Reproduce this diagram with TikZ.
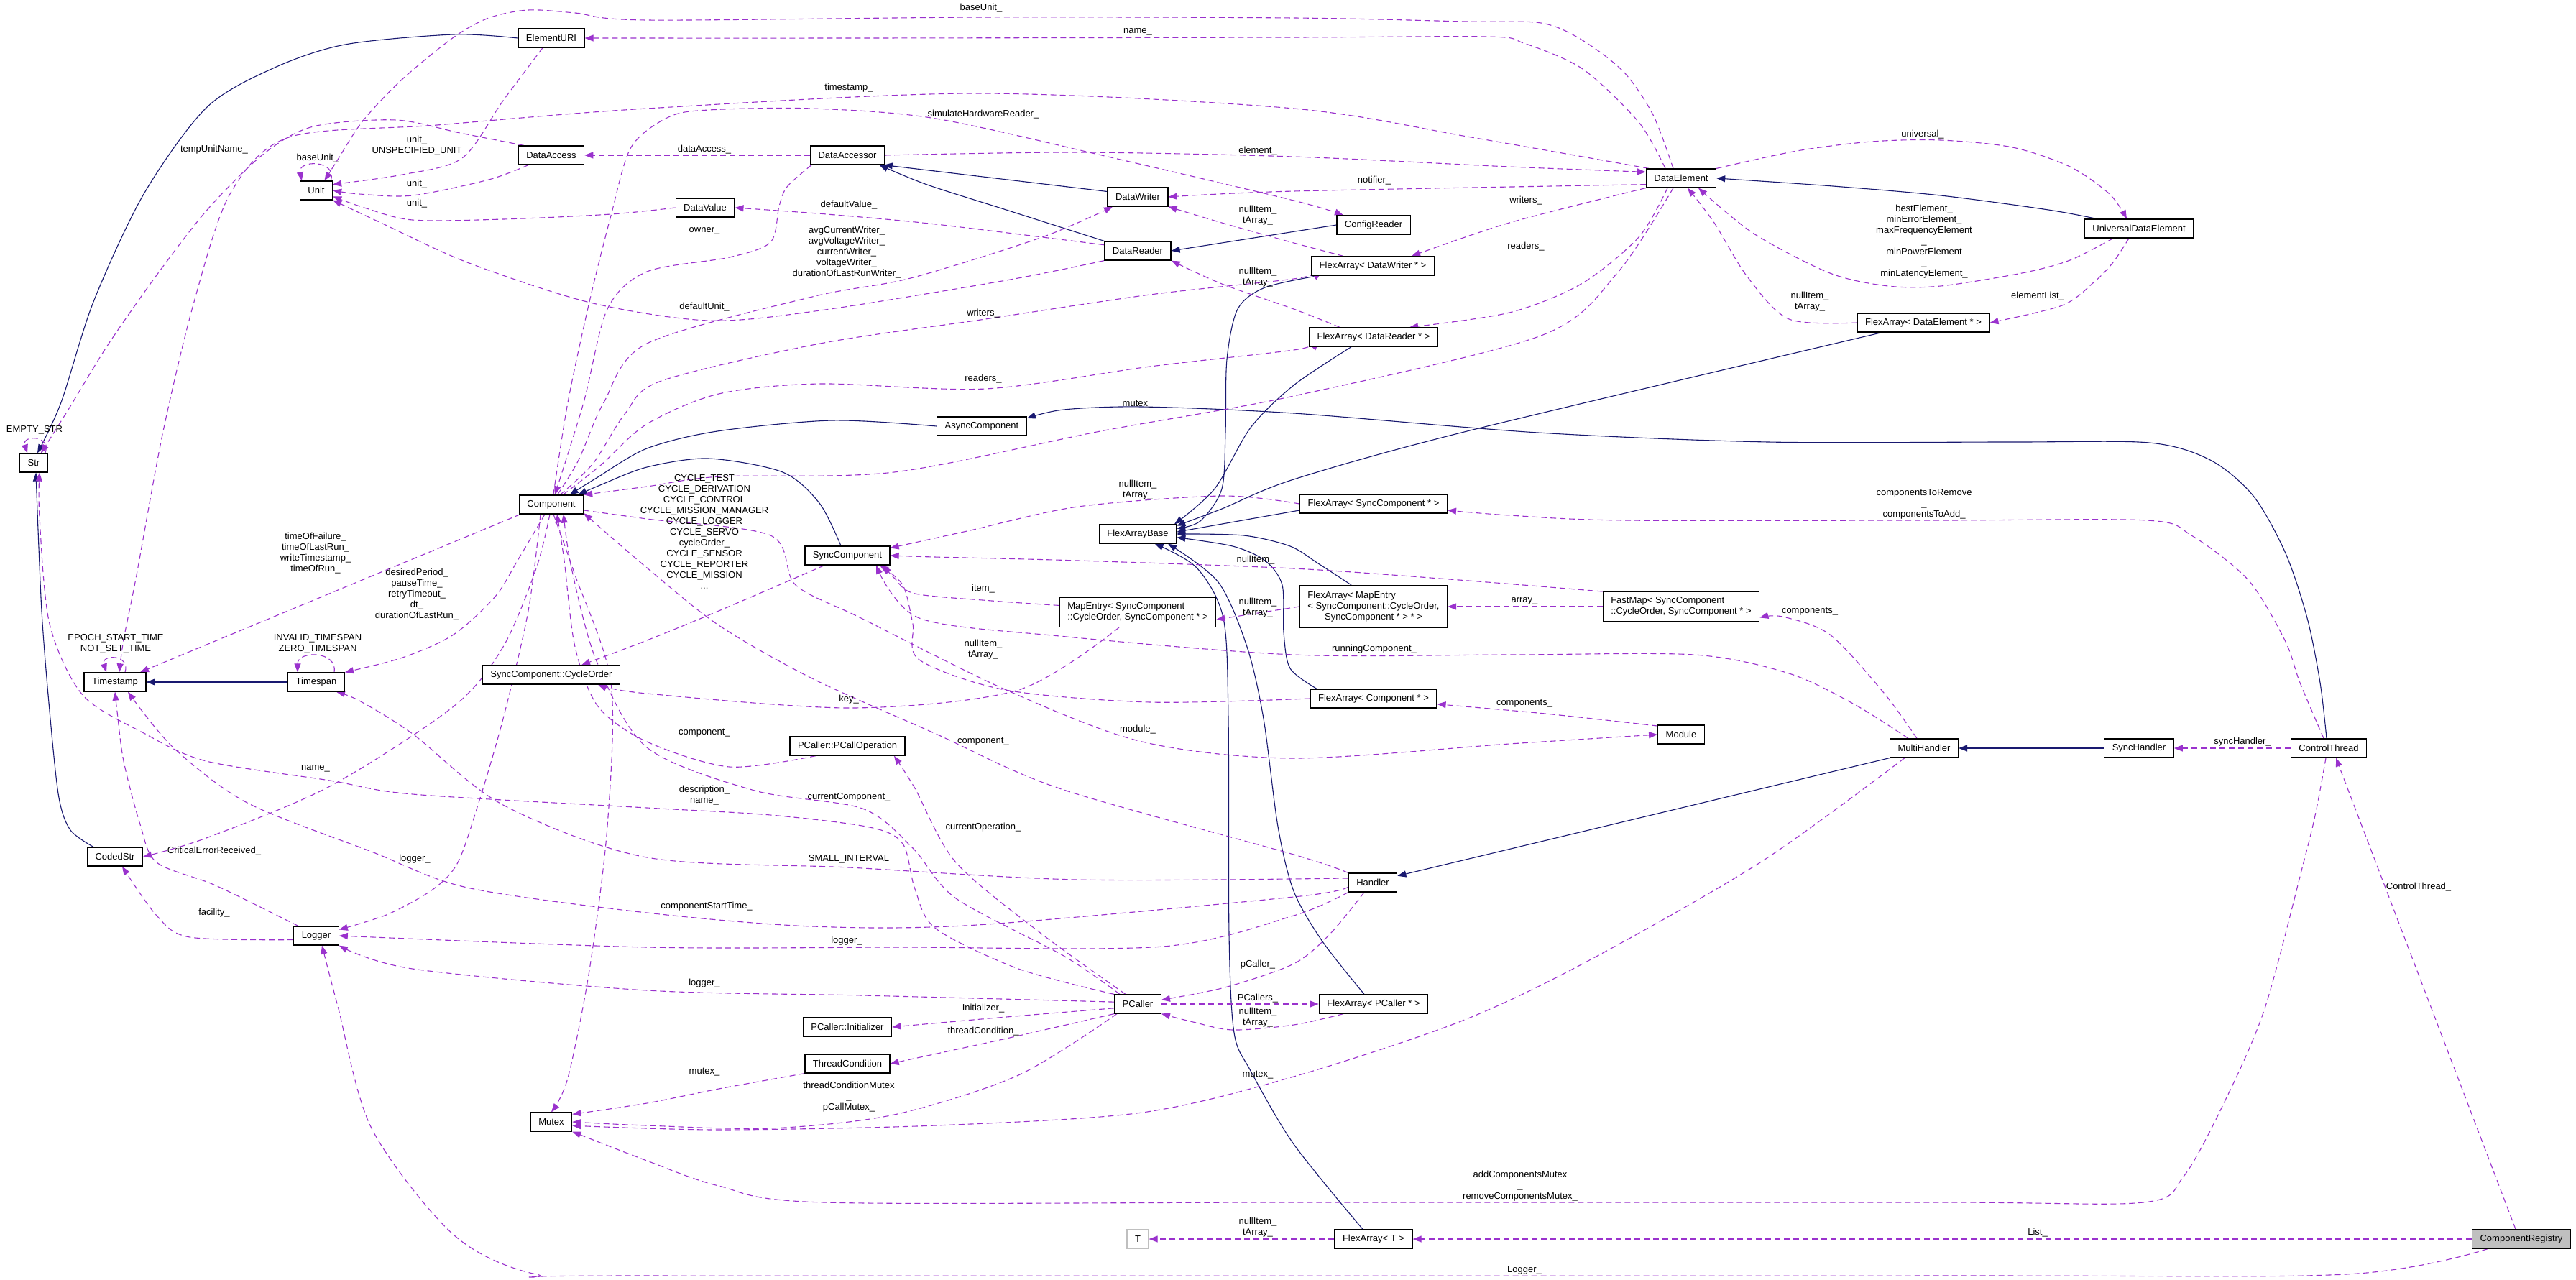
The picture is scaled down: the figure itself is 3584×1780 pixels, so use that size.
\documentclass[tikz,border=0pt]{standalone}
\usepackage{fontspec}
\setmainfont{Liberation Sans}
\usetikzlibrary{arrows.meta}
\definecolor{purp}{HTML}{9A32CD}
\definecolor{navyb}{HTML}{191970}
\definecolor{regfill}{HTML}{BFBFBF}
\pgfdeclarelayer{back}
\pgfdeclarelayer{edges}
\pgfsetlayers{back,edges,main}
\newcommand{\elab}[3]{\node[lbl] (#1) at (#2) {#3};}
\begin{document}
\begin{tikzpicture}[x=1pt,y=-1pt,
  cls/.style={draw=black, fill=white, line width=1.2pt, inner xsep=11pt, inner ysep=7pt, minimum height=26pt, font=\fontsize{13}{15}\selectfont},
  lbl/.style={inner sep=0pt, align=center, font=\fontsize{13}{15}\selectfont},
  use/.style={draw=purp, line width=1.1pt, dash pattern=on 8pt off 5pt, -{Triangle[length=12pt,width=9pt]}},
  inh/.style={draw=navyb, line width=1.1pt, -{Triangle[length=12pt,width=9pt]}}]
\begin{pgfonlayer}{back}
\fill[white] (0,0) rectangle (3584,1780);
\end{pgfonlayer}
\useasboundingbox (0,0) rectangle (3584,1780);

% ---------------- nodes ----------------
\node[cls] (str) at (47,644) {Str};
\node[cls] (tstamp) at (160,949) {Timestamp};
\node[cls] (coded) at (160,1192) {CodedStr};
\node[cls] (unit) at (440,265) {Unit};
\node[cls] (tspan) at (440,949) {Timespan};
\node[cls] (logger) at (440,1302) {Logger};
\node[cls] (euri) at (767,53) {ElementURI};
\node[cls] (dacc) at (767,216) {DataAccess};
\node[cls] (comp) at (767,702) {Component};
\node[cls] (corder) at (767,939) {SyncComponent::CycleOrder};
\node[cls] (mutex) at (767,1561) {Mutex};
\node[cls] (daccr) at (1179,216) {DataAccessor};
\node[cls] (dval) at (981,289) {DataValue};
\node[cls] (dwr) at (1583,274) {DataWriter};
\node[cls] (drd) at (1583,349) {DataReader};
\node[cls] (cfg) at (1911,313) {ConfigReader};
\node[cls] (fadw) at (1910,370) {FlexArray< DataWriter * >};
\node[cls] (fadr) at (1911,469) {FlexArray< DataReader * >};
\node[cls] (delem) at (2339,248) {DataElement};
\node[cls] (fade) at (2676,449) {FlexArray< DataElement * >};
\node[cls] (ude) at (2976,318) {UniversalDataElement};
\node[cls] (async) at (1366,593) {AsyncComponent};
\node[cls] (sync) at (1179,773) {SyncComponent};
\node[cls] (fab) at (1583,743) {FlexArrayBase};
\node[cls,align=left] (mapent) at (1583,852) {MapEntry< SyncComponent\\::CycleOrder, SyncComponent * >};
\node[cls] (pcop) at (1179,1038) {PCaller::PCallOperation};
\node[cls] (fasc) at (1911,701) {FlexArray< SyncComponent * >};
\node[cls] (fame) at (1911,844) {\begin{tabular}{@{}l@{}}FlexArray< MapEntry\\< SyncComponent::CycleOrder,\\\multicolumn{1}{@{}c@{}}{SyncComponent * > * >}\end{tabular}};
\node[cls,align=left] (fmap) at (2339,844) {FastMap< SyncComponent\\::CycleOrder, SyncComponent * >};
\node[cls] (fac) at (1911,972) {FlexArray< Component * >};
\node[cls] (module) at (2339,1022) {Module};
\node[cls] (mhand) at (2677,1041) {MultiHandler};
\node[cls] (shand) at (2976,1041) {SyncHandler};
\node[cls] (cthr) at (3240,1041) {ControlThread};
\node[cls] (handler) at (1910,1228) {Handler};
\node[cls] (pcaller) at (1583,1397) {PCaller};
\node[cls] (pinit) at (1179,1429) {PCaller::Initializer};
\node[cls] (tcond) at (1179,1480) {ThreadCondition};
\node[cls] (fapc) at (1911,1397) {FlexArray< PCaller * >};
\node[cls,draw=regfill] (tnode) at (1583,1724) {T};
\node[cls] (fat) at (1911,1724) {FlexArray< T >};
\node[cls,fill=regfill] (creg) at (3508,1724) {ComponentRegistry};

% ---------------- labels ----------------
\elab{l1}{1365,11}{baseUnit\_}
\elab{l2}{1583,44}{name\_}
\elab{l3}{1181,122}{timestamp\_}
\elab{l4}{1368,159}{simulateHardwareReader\_}
\elab{l5}{980,208}{dataAccess\_}
\elab{l6}{1750,210}{element\_}
\elab{l7}{298,208}{tempUnitName\_}
\elab{l8}{442,220}{baseUnit\_}
\elab{l9}{580,203}{unit\_\\UNSPECIFIED\_UNIT}
\elab{l10}{580,256}{unit\_}
\elab{l11}{580,283}{unit\_}
\elab{l12}{1912,251}{notifier\_}
\elab{l13}{2123,279}{writers\_}
\elab{l14}{2123,343}{readers\_}
\elab{l15}{2675,187}{universal\_}
\elab{l16}{2677,336}{bestElement\_\\minErrorElement\_\\maxFrequencyElement\\\_\\minPowerElement\\\_\\minLatencyElement\_}
\elab{l17}{2518,420}{nullItem\_\\tArray\_}
\elab{l18}{2835,412}{elementList\_}
\elab{l19}{1181,285}{defaultValue\_}
\elab{l20}{980,321}{owner\_}
\elab{l21}{1178,351}{avgCurrentWriter\_\\avgVoltageWriter\_\\currentWriter\_\\voltageWriter\_\\durationOfLastRunWriter\_}
\elab{l22}{1750,300}{nullItem\_\\tArray\_}
\elab{l23}{1750,386}{nullItem\_\\tArray\_}
\elab{l24}{980,427}{defaultUnit\_}
\elab{l25}{1368,436}{writers\_}
\elab{l26}{1368,527}{readers\_}
\elab{l27}{1583,563}{mutex\_}
\elab{l28}{48,598}{EMPTY\_STR}
\elab{l29}{439,770}{timeOfFailure\_\\timeOfLastRun\_\\writeTimestamp\_\\timeOfRun\_}
\elab{l30}{161,896}{EPOCH\_START\_TIME\\NOT\_SET\_TIME}
\elab{l31}{442,896}{INVALID\_TIMESPAN\\ZERO\_TIMESPAN}
\elab{l32}{580,827}{desiredPeriod\_\\pauseTime\_\\retryTimeout\_\\dt\_\\durationOfLastRun\_}
\elab{l33}{439,1069}{name\_}
\elab{l34}{298,1184}{CriticalErrorReceived\_}
\elab{l35}{577,1195}{logger\_}
\elab{l36}{298,1270}{facility\_}
\elab{l37}{980,740}{CYCLE\_TEST\\CYCLE\_DERIVATION\\CYCLE\_CONTROL\\CYCLE\_MISSION\_MANAGER\\CYCLE\_LOGGER\\CYCLE\_SERVO\\cycleOrder\_\\CYCLE\_SENSOR\\CYCLE\_REPORTER\\CYCLE\_MISSION\\...}
\elab{l38}{1583,682}{nullItem\_\\tArray\_}
\elab{l39}{1747,779}{nullItem\_}
\elab{l40}{1368,819}{item\_}
\elab{l41}{1750,846}{nullItem\_\\tArray\_}
\elab{l42}{1368,904}{nullItem\_\\tArray\_}
\elab{l43}{1181,973}{key\_}
\elab{l44}{980,1020}{component\_}
\elab{l45}{1368,1032}{component\_}
\elab{l46}{1583,1015}{module\_}
\elab{l47}{980,1107}{description\_\\name\_}
\elab{l48}{1181,1109}{currentComponent\_}
\elab{l49}{1368,1151}{currentOperation\_}
\elab{l50}{1181,1195}{SMALL\_INTERVAL}
\elab{l51}{2677,701}{componentsToRemove\\\_\\componentsToAdd\_}
\elab{l52}{2121,836}{array\_}
\elab{l53}{2518,851}{components\_}
\elab{l54}{1912,903}{runningComponent\_}
\elab{l55}{2121,979}{components\_}
\elab{l56}{3120,1032}{syncHandler\_}
\elab{l57}{983,1261}{componentStartTime\_}
\elab{l58}{1178,1309}{logger\_}
\elab{l59}{980,1368}{logger\_}
\elab{l60}{1750,1342}{pCaller\_}
\elab{l61}{1750,1389}{PCallers\_}
\elab{l62}{1750,1416}{nullItem\_\\tArray\_}
\elab{l63}{1368,1403}{Initializer\_}
\elab{l64}{1368,1435}{threadCondition\_}
\elab{l65}{980,1492}{mutex\_}
\elab{l66}{1181,1526}{threadConditionMutex\\\_\\pCallMutex\_}
\elab{l67}{1750,1496}{mutex\_}
\elab{l68}{2115,1650}{addComponentsMutex\\\_\\removeComponentsMutex\_}
\elab{l69}{1750,1708}{nullItem\_\\tArray\_}
\elab{l70}{2835,1715}{List\_}
\elab{l71}{2121,1767}{Logger\_}
\elab{l72}{3365,1234}{ControlThread\_}

\begin{pgfonlayer}{edges}
% ---------------- inheritance ----------------
\draw[inh] plot[smooth] coordinates {(euri.west) (631,48) (480,62) (380,95) (287,150) (200,270) (130,420) (85,560) ([xshift=5pt]str.north)};
\draw[inh] plot[smooth] coordinates {([xshift=-30pt]coded.north) (98,1155) (82,1110) (70,1000) (58,850) ([xshift=3pt]str.south)};
\draw[inh] (dwr.170) -- (daccr.-15);
\draw[inh] plot[smooth] coordinates {(drd.north west) (1400,292) (1290,257) (daccr.-17)};
\draw[inh] (cfg.west) -- (drd.east);
\draw[inh] plot[smooth] coordinates {([xshift=-59pt]ude.north) (2850,292) (2700,272) (2550,259) (delem.east)};
\draw[inh] plot[smooth] coordinates {([xshift=-76pt]fadw.south) (1760,400) (1722,430) (1707,500) (1705,600) (1700,680) (1670,725) (fab.8)};
\draw[inh] plot[smooth] coordinates {([xshift=-31pt]fadr.south) (1800,536) (1740,595) (1690,680) (fab.15)};
\draw[inh] plot[smooth] coordinates {([xshift=-58pt]fade.south) (2041,600) (1800,667) (1700,708) (fab.12)};
\draw[inh] (fasc.185) -- (fab.3);
\draw[inh] plot[smooth] coordinates {([xshift=-31pt]fame.north) (1834,784) (1795,760) (1730,745) (fab.east)};
\draw[inh] plot[smooth] coordinates {([xshift=-79pt]fac.north) (1795,930) (1786,880) (1784,814) (1760,780) (1715,760) (fab.-5)};
\draw[inh] plot[smooth] coordinates {([xshift=-13pt]fapc.north) (1840,1310) (1800,1240) (1778,1150) (1758,1000) (1735,900) (1695,810) (fab.-18)};
\draw[inh] plot[smooth] coordinates {([xshift=-15pt]fat.north) (1800,1592) (1740,1490) (1717,1437) (1710,1300) (1709,1000) (1702,860) (1665,790) (fab.-30)};
\draw[inh] plot[smooth] coordinates {(async.west) (1158,585) (998,600) (900,624) (830,665) (comp.28)};
\draw[inh] plot[smooth] coordinates {([xshift=-9pt]sync.north) (1140,700) (1089,657) (986,638) (900,650) (835,675) (comp.20)};
\draw[inh] (tspan.west) -- (tstamp.east);
\draw[inh] plot[smooth] coordinates {([xshift=-3pt]cthr.north) (3228,950) (3210,860) (3180,770) (3135,690) (3075,640) (2990,616) (2800,615) (2460,615) (2140,602) (1800,575) (1589,566) (1480,570) (async.10)};
\draw[inh] (shand.west) -- (mhand.east);
\draw[inh] (mhand.south west) -- (handler.15);

% ---------------- usage ----------------
\draw[use] plot[smooth] coordinates {([xshift=-11pt]delem.north) (2300,160) (2259,100) (2200,55) (2144,32) (2041,30) (1800,25) (1365,24) (900,28) (800,18) (735,14) (680,25) (631,52) (560,110) (505,168) (470,222) (unit.50)};
\draw[use] ([xshift=-3pt]unit.north east) .. controls (470,222) and (414,222) .. ([xshift=3pt]unit.north west);
\draw[use] plot[smooth] coordinates {([xshift=-12pt]euri.south) (700,140) (643,220) (560,243) (unit.20)};
\draw[use] plot[smooth] coordinates {([xshift=-32pt]dacc.south) (680,250) (574,272) (500,270) (unit.east)};
\draw[use] plot[smooth] coordinates {(dval.west) (850,298) (700,305) (574,306) (510,290) (unit.-20)};
\draw[use] plot[smooth] coordinates {(drd.south west) (1400,390) (1141,432) (986,446) (821,421) (650,365) (530,310) (unit.south east)};
\draw[use] plot[smooth] coordinates {([xshift=-38pt]dacc.north) (640,185) (551,167) (436,176) (367,214) (290,290) (220,380) (150,480) (95,570) ([xshift=10pt]str.north)};
\draw[use] ([xshift=-4pt]str.north east) .. controls (72,605) and (30,605) .. ([xshift=-9pt]str.north);
\draw[use] plot[smooth] coordinates {([xshift=-22pt]delem.north) (2280,170) (2202,96) (2120,60) (2070,51) (1800,52) (1200,53) (euri.east)};
\draw[use] plot[smooth] coordinates {([xshift=-45pt]delem.north) (2047,191) (1800,151) (1359,130) (900,151) (608,174) (402,191) (320,270) (270,420) (227,600) (190,800) (172,890) ([xshift=6pt]tstamp.north)};
\draw[use] plot[smooth] coordinates {(comp.78) (790,560) (820,420) (850,300) (878,205) (930,163) (986,153) (1130,151) (1302,165) (1550,220) (1800,279) ([xshift=-42pt]cfg.north)};
\draw[use] (daccr.west) -- (dacc.east);
\draw[use] plot[smooth] coordinates {(daccr.east) (1500,212) (1800,218) (2100,232) (delem.170)};
\draw[use] plot[smooth] coordinates {(drd.170) (1302,312) (1150,298) (dval.east)};
\draw[use] plot[smooth] coordinates {([xshift=-50pt]daccr.south) (1095,260) (1084,287) (1072,337) (1015,358) (900,378) (845,430) (812,560) (comp.70)};
\draw[use] plot[smooth] coordinates {(comp.58) (805,640) (840,560) (900,478) (1130,413) (1267,387) (1450,330) ([xshift=-35pt]dwr.south)};
\draw[use] plot[smooth] coordinates {(comp.48) (825,645) (870,575) (920,530) (1141,478) (1371,444) (1600,410) (1800,388) (fadw.186)};
\draw[use] plot[smooth] coordinates {(comp.40) (835,648) (900,590) (1000,548) (1141,534) (1371,541) (1600,510) (1800,487) (fadr.186)};
\draw[use] plot[smooth] coordinates {([xshift=-11pt]delem.south) (2250,380) (2144,467) (1800,551) (1531,600) (1244,657) (1003,663) (900,677) (comp.north east)};
\draw[use] plot[smooth] coordinates {(delem.190) (1800,266) (dwr.east)};
\draw[use] plot[smooth] coordinates {(delem.south west) (2100,310) ([xshift=54pt]fadw.north)};
\draw[use] plot[smooth] coordinates {([xshift=-19pt]delem.south) (2280,330) (2200,395) (2100,435) ([xshift=50pt]fadr.north)};
\draw[use] plot[smooth] coordinates {(delem.north east) (2500,210) (2604,197) (2700,195) (2800,205) (2880,232) (2935,270) ([xshift=-17pt]ude.north)};
\draw[use] plot[smooth] coordinates {([xshift=-36pt]ude.south) (2880,362) (2813,380) (2700,398) (2627,398) (2546,380) (2440,325) ([xshift=24pt]delem.south)};
\draw[use] plot[smooth] coordinates {([xshift=-14pt]ude.south) (2940,365) (2914,392) (2869,425) (fade.east)};
\draw[use] plot[smooth] coordinates {(fade.west) (2489,444) (2431,385) (2385,310) ([xshift=9pt]delem.south)};
\draw[use] ([xshift=-43pt]comp.south) -- ([xshift=35pt]tstamp.north);
\draw[use] ([xshift=14pt]tstamp.north) .. controls (182,910) and (140,910) .. ([xshift=-12pt]tstamp.north);
\draw[use] ([xshift=25pt]tspan.north) .. controls (470,905) and (414,905) .. ([xshift=-26pt]tspan.north);
\draw[use] plot[smooth] coordinates {([xshift=-9pt]comp.south) (720,780) (689,830) (631,883) (560,915) (tspan.north east)};
\draw[use] plot[smooth] coordinates {([xshift=-2pt]comp.south) (746,791) (700,900) (631,983) (459,1094) (287,1166) (coded.east)};
\draw[use] plot[smooth] coordinates {([xshift=-15pt]comp.south) (735,850) (700,1000) (665,1120) (637,1200) (603,1237) (540,1272) (logger.15)};
\draw[use] plot[smooth] coordinates {([xshift=3pt]comp.south) (800,800) (850,950) (845,1150) (820,1350) (790,1500) (mutex.north)};
\draw[use] plot[smooth] coordinates {(comp.-10) (900,722) (1072,745) (1107,814) (1198,860) (1400,960) (1589,1032) (1800,1055) (2100,1035) (module.west)};
\draw[use] plot[smooth] coordinates {(pcaller.north west) (1417,1348) (1302,1292) (1273,1237) (1256,1174) (1210,1151) (1072,1134) (900,1124) (574,1105) (459,1086) (287,1059) (200,1020) (115,967) (69,868) (55,720) ([xshift=8pt]str.south)};
\draw[use] plot[smooth] coordinates {([xshift=-25pt]pcaller.north) (1480,1330) (1330,1250) (1270,1180) (1200,1125) (1050,1100) (900,1040) (830,920) (795,790) ([xshift=17pt]comp.south)};
\draw[use] plot[smooth] coordinates {(handler.north west) (1800,1189) (1474,1097) (1302,1021) (1130,944) (1000,870) (900,790) (comp.-15)};
\draw[use] plot[smooth] coordinates {([xshift=-44pt]pcop.south) (1015,1067) (900,1032) (832,983) (800,900) (785,780) ([xshift=8pt]comp.south)};
\draw[use] plot[smooth] coordinates {(fac.west) (1600,977) (1399,960) (1279,918) (1270,868) (1256,814) ([xshift=45pt]sync.south)};
\draw[use] plot[smooth] coordinates {(mapent.175) (1380,836) (1273,826) (1245,805) ([xshift=50pt]sync.south)};
\draw[use] plot[smooth] coordinates {(fasc.west) (1700,690) (1500,705) (1350,738) (sync.10)};
\draw[use] plot[smooth] coordinates {(fmap.north west) (2030,807) (1800,791) (1500,780) (1300,775) (sync.east)};
\draw[use] (fame.west) -- ([yshift=-10pt]mapent.east);
\draw[use] (fmap.west) -- (fame.east);
\draw[use] plot[smooth] coordinates {([xshift=-10pt]mhand.north) (2621,964) (2546,883) (2480,858) (fmap.-8)};
\draw[use] plot[smooth] coordinates {([xshift=-22pt]mhand.north) (2580,980) (2489,937) (2357,911) (2100,911) (1800,911) (1474,885) (1279,860) ([xshift=40pt]sync.south)};
\draw[use] plot[smooth] coordinates {(module.160) (2150,993) (fac.-5)};
\draw[use] plot[smooth] coordinates {([xshift=-7pt]cthr.north) (3200,950) (3179,891) (3128,807) (3049,745) (2987,724) (2700,724) (2259,724) (2100,717) (fasc.-5)};
\draw[use] (cthr.west) -- (shand.east);
\draw[use] ([xshift=-8pt]creg.north) -- ([xshift=10pt]cthr.south);
\draw[use] plot[smooth] coordinates {([xshift=-4pt]cthr.south) (3222,1130) (3205,1200) (3151,1403) (3095,1533) (3038,1637) (2982,1673) (2700,1673) (1800,1673) (1147,1673) (1000,1650) (900,1615) (mutex.south east)};
\draw[use] plot[smooth] coordinates {([xshift=-27pt]mhand.south) (2449,1200) (2202,1341) (2030,1422) (1800,1498) (1589,1548) (1302,1566) (1000,1572) (mutex.-10)};
\draw[use] plot[smooth] coordinates {([xshift=-29pt]pcaller.south) (1417,1496) (1244,1551) (1072,1570) (900,1566) (mutex.east)};
\draw[use] plot[smooth] coordinates {(tcond.south west) (1000,1515) (900,1535) (mutex.20)};
\draw[use] plot[smooth] coordinates {(pcaller.south west) (1400,1445) (tcond.east)};
\draw[use] plot[smooth] coordinates {(pcaller.190) (1400,1415) (pinit.east)};
\draw[use] plot[smooth] coordinates {(pcaller.175) (1200,1385) (900,1378) (574,1348) (logger.south east)};
\draw[use] plot[smooth] coordinates {(handler.south west) (1800,1274) (1618,1317) (1250,1318) (900,1318) (logger.east)};
\draw[use] plot[smooth] coordinates {(handler.190) (1800,1248) (1359,1287) (1130,1289) (900,1270) (650,1235) (517,1185) (344,1117) (241,1040) ([xshift=18pt]tstamp.south)};
\draw[use] plot[smooth] coordinates {([xshift=-25pt]logger.north) (300,1232) (218,1200) (195,1147) (172,1059) (163,990) (tstamp.south)};
\draw[use] plot[smooth] coordinates {(handler.170) (1500,1224) (1181,1207) (900,1193) (700,1120) (574,1021) (500,975) ([xshift=28pt]tspan.south)};
\draw[use] plot[smooth] coordinates {([xshift=-12pt]handler.south) (1850,1300) (1800,1341) (1704,1374) (pcaller.10)};
\draw[use] (pcaller.east) -- (fapc.west);
\draw[use] plot[smooth] coordinates {([xshift=-42pt]fapc.south) (1800,1426) (1715,1433) (1660,1422) (pcaller.south east)};
\draw[use] plot[smooth] coordinates {([xshift=-17pt]pcaller.north) (1450,1300) (1330,1200) (1273,1097) ([xshift=65pt]pcop.south)};
\draw[use] (fat.west) -- (tnode.east);
\draw[use] (creg.west) -- (fat.east);
\draw[use] plot[smooth] coordinates {([xshift=-47pt]creg.south) (3264,1773) (2700,1775) (900,1775) (746,1773) (631,1718) (517,1570) (470,1400) ([xshift=8pt]logger.south)};
\draw[use] plot[smooth] coordinates {(logger.190) (264,1304) (218,1274) ([xshift=10pt]coded.south)};
\draw[use] plot[smooth] coordinates {([xshift=-32pt]sync.south) (1000,850) (900,891) ([xshift=42pt]corder.north)};
\draw[use] plot[smooth] coordinates {([xshift=-26pt]mapent.south) (1417,960) (1187,985) (900,965) ([xshift=65pt]corder.south)};
\draw[use] plot[smooth] coordinates {([xshift=-41pt]fadw.north) (1800,338) (1700,310) (dwr.south east)};
\draw[use] plot[smooth] coordinates {([xshift=-47pt]fadr.north) (1800,430) (1700,395) (drd.south east)};
\end{pgfonlayer}
\end{tikzpicture}
\end{document}
